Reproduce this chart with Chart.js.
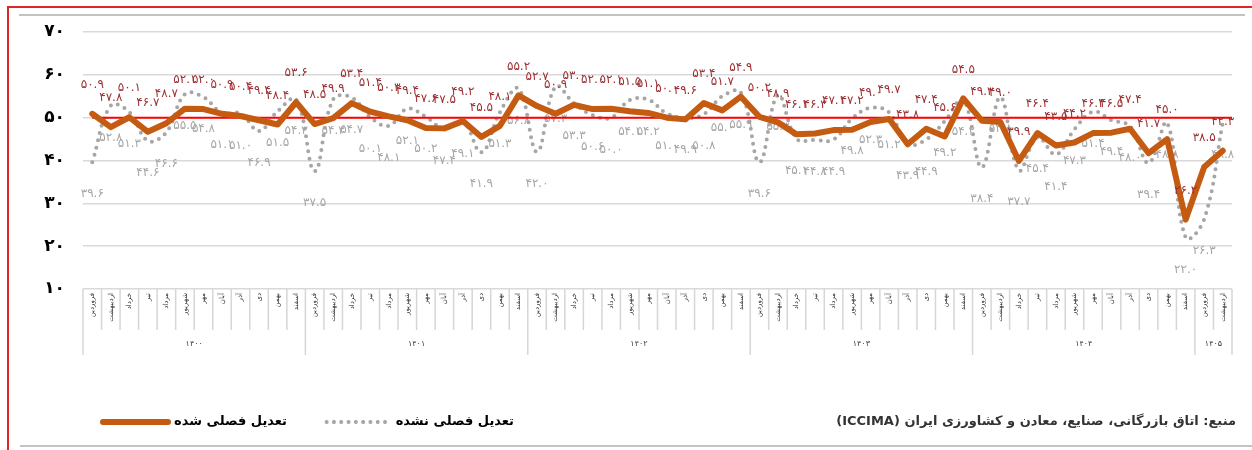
<!DOCTYPE html>
<html lang="fa">
<head>
<meta charset="utf-8">
<script src="https://cdn.jsdelivr.net/npm/chart.js@4.4.0/dist/chart.umd.min.js"></script>
<style>
html,body{margin:0;padding:0;background:#fff;}
#wrap{position:relative;width:1252px;height:450px;overflow:hidden;background:#fff;}
#c{position:absolute;left:0;top:0;}
.abs{position:absolute;}
.frameL{left:7px;top:6px;width:2px;height:444px;background:#dc262c;}
.frameT{left:7px;top:6px;width:1245px;height:2px;background:#dc262c;}
.greyT{left:19px;top:14px;width:1226px;height:2px;background:#c4c4c4;}
.greyB{left:20px;top:445px;width:1232px;height:2px;background:#c4c4c4;}
.lgTxt{font-family:"DejaVu Sans",sans-serif;font-weight:bold;font-size:13px;color:#000;direction:rtl;white-space:nowrap;top:413px;}
.src{font-family:"DejaVu Sans",sans-serif;font-weight:bold;font-size:13px;color:#333;direction:rtl;white-space:nowrap;top:413px;right:16px;}
.symO{left:100px;top:419px;width:71px;height:6px;border-radius:3px;background:#c55a11;}
.symG{left:323px;top:420px;width:66px;height:4px;background-image:radial-gradient(circle,#a6a6a6 1.8px,transparent 2.2px);background-size:7.3px 4px;background-repeat:repeat-x;}
</style>
</head>
<body>
<div id="wrap">
  <canvas id="c" width="1252" height="450"></canvas>
  <div class="abs frameL"></div>
  <div class="abs frameT"></div>
  <div class="abs greyT"></div>
  <div class="abs greyB"></div>
  <div class="abs symO"></div>
  <div class="abs lgTxt" id="lg1" style="right:965px;">تعدیل فصلی شده</div>
  <div class="abs symG"></div>
  <div class="abs lgTxt" id="lg2" style="right:738px;">تعدیل فصلی نشده</div>
  <div class="abs src">منبع: اتاق بازرگانی، صنایع، معادن و کشاورزی ایران (ICCIMA)</div>
</div>
<script>
// ---- data ----
const years = ['۱۴۰۰', '۱۴۰۱', '۱۴۰۲', '۱۴۰۳', '۱۴۰۴', '۱۴۰۵'];
const monthsPerYear = [12, 12, 12, 12, 12, 2];
const monthNames = ['فروردین', 'اردیبهشت', 'خرداد', 'تیر', 'مرداد', 'شهریور', 'مهر', 'آبان', 'آذر', 'دی', 'بهمن', 'اسفند'];

const seasonallyAdjusted = [
  50.9, 47.8, 50.1, 46.7, 48.7, 52.1, 52.0, 50.9, 50.4, 49.4, 48.4, 53.6,
  48.5, 49.9, 53.4, 51.4, 50.3, 49.4, 47.6, 47.5, 49.2, 45.5, 48.1, 55.2,
  52.7, 50.9, 53.0, 52.0, 52.1, 51.5, 51.1, 50.0, 49.6, 53.4, 51.7, 54.9,
  50.2, 48.9, 46.1, 46.3, 47.1, 47.2, 49.0, 49.7, 43.8, 47.4, 45.6, 54.5,
  49.3, 49.0, 39.9, 46.4, 43.5, 44.2, 46.4, 46.5, 47.4, 41.7, 45.0, 26.2,
  38.5, 42.3
];
const notAdjusted = [
  39.6, 52.8, 51.3, 44.6, 46.6, 55.5, 54.8, 51.1, 51.0, 46.9, 51.5, 54.3,
  37.5, 54.3, 54.7, 50.1, 48.1, 52.1, 50.2, 47.4, 49.1, 41.9, 51.3, 56.8,
  42.0, 57.3, 53.3, 50.6, 50.0, 54.1, 54.2, 51.0, 49.9, 50.8, 55.0, 55.9,
  39.6, 55.3, 45.1, 44.8, 44.9, 49.8, 52.3, 51.2, 43.9, 44.9, 49.2, 54.2,
  38.4, 54.8, 37.7, 45.4, 41.4, 47.3, 51.4, 49.4, 48.0, 39.4, 48.8, 22.0,
  26.3, 48.8
];
const threshold = 50;
const yTicks = [10, 20, 30, 40, 50, 60, 70];

// ---- helpers ----
const FA = '۰۱۲۳۴۵۶۷۸۹';
const fa = s => String(s).replace(/\d/g, d => FA[d]);

const labels = [];
const yearStarts = [];
monthsPerYear.forEach((n, yi) => {
  yearStarts.push(labels.length);
  for (let m = 0; m < n; m++) labels.push(monthNames[m]);
});

const FONT = '"DejaVu Sans", sans-serif';

const xDeco = {
  id: 'xDeco',
  afterDraw(chart) {
    const ctx = chart.ctx, xs = chart.scales.x, area = chart.chartArea;
    const n = labels.length;
    const half = (xs.getPixelForValue(1) - xs.getPixelForValue(0)) / 2;
    const top = area.bottom;
    ctx.save();
    ctx.strokeStyle = '#d6d6d6';
    ctx.lineWidth = 1.5;
    for (let i = 0; i <= n; i++) {
      const x = i < n ? xs.getPixelForValue(i) - half : xs.getPixelForValue(n - 1) + half;
      const isYear = yearStarts.includes(i) || i === n;
      ctx.beginPath();
      ctx.moveTo(x, top);
      ctx.lineTo(x, isYear ? top + 66 : top + 41);
      ctx.stroke();
    }
    // month labels (rotated)
    ctx.fillStyle = '#333';
    ctx.font = '7px ' + FONT;
    ctx.textBaseline = 'middle';
    for (let i = 0; i < n; i++) {
      const x = xs.getPixelForValue(i);
      ctx.save();
      ctx.translate(x, top + 4);
      ctx.rotate(-Math.PI / 2);
      ctx.textAlign = 'right';
      ctx.fillText(labels[i], 0, 0);
      ctx.restore();
    }
    // year labels
    ctx.font = '8px ' + FONT;
    ctx.textAlign = 'center';
    ctx.fillStyle = '#404040';
    yearStarts.forEach((s, yi) => {
      const e = s + monthsPerYear[yi] - 1;
      const x = (xs.getPixelForValue(s) + xs.getPixelForValue(e)) / 2;
      ctx.fillText(years[yi], x, top + 55);
    });
    ctx.restore();
  }
};

function drawLabels(chart, dsIndex, color, offset) {
  const ctx = chart.ctx;
  const meta = chart.getDatasetMeta(dsIndex);
  const data = chart.data.datasets[dsIndex].data;
  ctx.save();
  ctx.fillStyle = color;
  ctx.font = '12px ' + FONT;
  ctx.textAlign = 'center';
  ctx.textBaseline = 'middle';
  meta.data.forEach((pt, i) => {
    ctx.fillText(fa(data[i].toFixed(1)), pt.x, pt.y + offset);
  });
  ctx.restore();
}

const labelsAndRef = {
  id: 'labelsAndRef',
  beforeDatasetsDraw(chart) {
    drawLabels(chart, 1, '#a6a6a6', 32);
  },
  afterDatasetDraw(chart, args) {
    if (args.index !== 1) return;
    const ctx = chart.ctx, xs = chart.scales.x, ys = chart.scales.y;
    const y = ys.getPixelForValue(threshold);
    ctx.save();
    ctx.strokeStyle = '#ff0000';
    ctx.lineWidth = 2;
    ctx.beginPath();
    ctx.moveTo(xs.getPixelForValue(0), y);
    ctx.lineTo(chart.chartArea.right, y);
    ctx.stroke();
    ctx.restore();
  },
  afterDatasetsDraw(chart) {
    drawLabels(chart, 0, '#9c2f33', -29);
  }
};

new Chart(document.getElementById('c'), {
  type: 'line',
  data: {
    labels: labels,
    datasets: [
      {
        label: 'تعدیل فصلی شده',
        data: seasonallyAdjusted,
        borderColor: '#c55a11',
        borderWidth: 6,
        borderJoinStyle: 'round',
        borderCapStyle: 'round',
        pointRadius: 0,
        tension: 0,
        order: 1
      },
      {
        label: 'تعدیل فصلی نشده',
        data: notAdjusted,
        borderColor: '#a6a6a6',
        borderWidth: 4,
        borderDash: [0, 7.5],
        borderCapStyle: 'round',
        pointRadius: 0,
        tension: 0.4,
        order: 2
      }
    ]
  },
  options: {
    responsive: false,
    animation: false,
    events: [],
    layout: { padding: { left: 0, right: 20, top: 32, bottom: 161 } },
    plugins: { legend: { display: false }, tooltip: { enabled: false } },
    scales: {
      x: { type: 'category', offset: true, display: false },
      y: {
        min: 10, max: 70,
        afterFit(scale) { scale.width = 83; },
        afterBuildTicks(scale) { scale.ticks = yTicks.map(v => ({ value: v })); },
        border: { display: false },
        grid: { color: '#d9d9d9', lineWidth: 1.5, drawTicks: false },
        ticks: {
          padding: 18,
          color: '#000',
          font: { family: 'DejaVu Sans', weight: 'bold', size: 17 },
          callback: v => fa(v)
        }
      }
    }
  },
  plugins: [xDeco, labelsAndRef]
});
</script>
</body>
</html>
